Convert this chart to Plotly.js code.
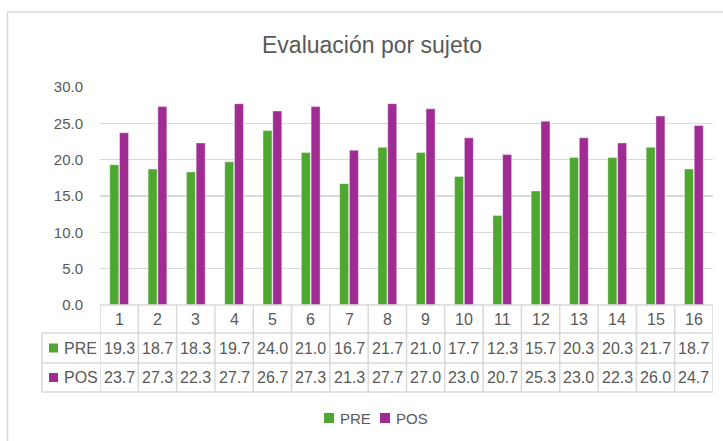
<!DOCTYPE html>
<html>
<head>
<meta charset="utf-8">
<script src="https://cdn.plot.ly/plotly-3.0.1.min.js"></script>
<style>html,body{margin:0;padding:0;background:#fff;}#chart{width:723px;height:441px;}</style>
</head>
<body>
<div id="chart"></div>
<script>
const subjects = [1,2,3,4,5,6,7,8,9,10,11,12,13,14,15,16];
const preValues = [19.3,18.7,18.3,19.7,24.0,21.0,16.7,21.7,21.0,17.7,12.3,15.7,20.3,20.3,21.7,18.7];
const posValues = [23.7,27.3,22.3,27.7,26.7,27.3,21.3,27.7,27.0,23.0,20.7,25.3,23.0,22.3,26.0,24.7];
const seriesNames = ['PRE','POS'];
const seriesColors = ['#4EA72E','#A02B93'];
const titleText = 'Evaluación por sujeto';

const W = 723, H = 441;
const L = 100, R = 10, T = 87, B = 136;
const plotH = H - T - B;   // 218
const plotW = W - L - R;   // 613
const py = p => (H - B - p) / plotH;   // pixel y -> paper y
const px = p => (p - L) / plotW;       // pixel x -> paper x

const grey = '#595959';
const lineCol = '#D9D9D9';
const fontFam = 'Liberation Sans, Arial, sans-serif';
const tblSize = 16;

const rowY = [305, 333, 363, 392];
const shapes = [];
// chart border
shapes.push({type:'rect', xref:'paper', yref:'paper', x0:px(7.5), x1:1.2, y0:py(12), y1:-1, line:{color:lineCol, width:1.5}, fillcolor:'rgba(0,0,0,0)', layer:'below'});
// horizontal table lines
shapes.push({type:'line', xref:'paper', yref:'paper', x0:0, x1:1, y0:py(rowY[0]), y1:py(rowY[0]), line:{color:lineCol, width:1.5}});
for (let i = 1; i < rowY.length; i++) {
  shapes.push({type:'line', xref:'paper', yref:'paper', x0:px(42), x1:1, y0:py(rowY[i]), y1:py(rowY[i]), line:{color:lineCol, width:1.5}});
}
// vertical table lines
shapes.push({type:'line', xref:'paper', yref:'paper', x0:px(42), x1:px(42), y0:py(rowY[1]), y1:py(rowY[3]), line:{color:lineCol, width:1.5}});
for (let k = 0; k <= subjects.length; k++) {
  const xv = subjects[0] - 0.5 + k;
  shapes.push({type:'line', xref:'x', yref:'paper', x0:xv, x1:xv, y0:py(rowY[0]), y1:py(rowY[3]), line:{color:lineCol, width:1.5}});
}
// legend keys in table
for (let s = 0; s < 2; s++) {
  const yc = (rowY[s+1] + rowY[s+2]) / 2;
  shapes.push({type:'rect', xref:'paper', yref:'paper', x0:px(49), x1:px(58), y0:py(yc-4.5), y1:py(yc+4.5), line:{width:0}, fillcolor:seriesColors[s]});
}
// bottom legend (custom)
const legY = 418;
const legKeyX = [324, 380];
for (let s = 0; s < 2; s++) {
  shapes.push({type:'rect', xref:'paper', yref:'paper', x0:px(legKeyX[s]), x1:px(legKeyX[s]+10), y0:py(legY-5), y1:py(legY+5), line:{width:0}, fillcolor:seriesColors[s]});
}

const annotations = [];
subjects.forEach((s, i) => {
  annotations.push({xref:'x', yref:'paper', x:s, y:py((rowY[0]+rowY[1])/2), text:String(s), showarrow:false, font:{family:fontFam, size:tblSize, color:grey}, xanchor:'center', yanchor:'middle'});
  annotations.push({xref:'x', yref:'paper', x:s, y:py((rowY[1]+rowY[2])/2), text:preValues[i].toFixed(1), showarrow:false, font:{family:fontFam, size:tblSize, color:grey}, xanchor:'center', yanchor:'middle'});
  annotations.push({xref:'x', yref:'paper', x:s, y:py((rowY[2]+rowY[3])/2), text:posValues[i].toFixed(1), showarrow:false, font:{family:fontFam, size:tblSize, color:grey}, xanchor:'center', yanchor:'middle'});
});
seriesNames.forEach((n, s) => {
  annotations.push({xref:'paper', yref:'paper', x:px(62), y:py((rowY[s+1]+rowY[s+2])/2), text:n, showarrow:false, font:{family:fontFam, size:tblSize, color:grey}, xanchor:'left', yanchor:'middle'});
  annotations.push({xref:'paper', yref:'paper', x:px(legKeyX[s]+14), y:py(legY), text:n, showarrow:false, font:{family:fontFam, size:15, color:grey}, xanchor:'left', yanchor:'middle'});
});

const traces = [
  {type:'bar', name:seriesNames[0], x:subjects, y:preValues, marker:{color:seriesColors[0], line:{color:'rgba(255,255,255,0.5)', width:0.8}}, hoverinfo:'y'},
  {type:'bar', name:seriesNames[1], x:subjects, y:posValues, marker:{color:seriesColors[1], line:{color:'rgba(255,255,255,0.5)', width:0.8}}, hoverinfo:'y'}
];

const layout = {
  width:W, height:H,
  margin:{l:L, r:R, t:T, b:B, pad:0},
  paper_bgcolor:'#fff', plot_bgcolor:'#fff',
  title:{text:titleText, x:372/W, xanchor:'center', xref:'container', y:1-45/H, yanchor:'middle', yref:'container', font:{family:'Liberation Sans Narrow, Liberation Sans, Arial, sans-serif', size:23, color:grey}},
  barmode:'group', bargap:0.49, bargroupgap:0.08,
  xaxis:{range:[0.5,16.5], showticklabels:false, showgrid:false, zeroline:false, showline:false, ticks:'', fixedrange:true},
  yaxis:{range:[0,30], dtick:5, tickformat:'.1f', showgrid:true, gridcolor:lineCol, gridwidth:1.5, zeroline:false, showline:false, ticks:'', ticklabelstandoff:16, tickfont:{family:fontFam, size:15, color:grey}, fixedrange:true},
  showlegend:false,
  shapes:shapes,
  annotations:annotations
};

Plotly.newPlot('chart', traces, layout, {displayModeBar:false, staticPlot:true});
</script>
</body>
</html>
